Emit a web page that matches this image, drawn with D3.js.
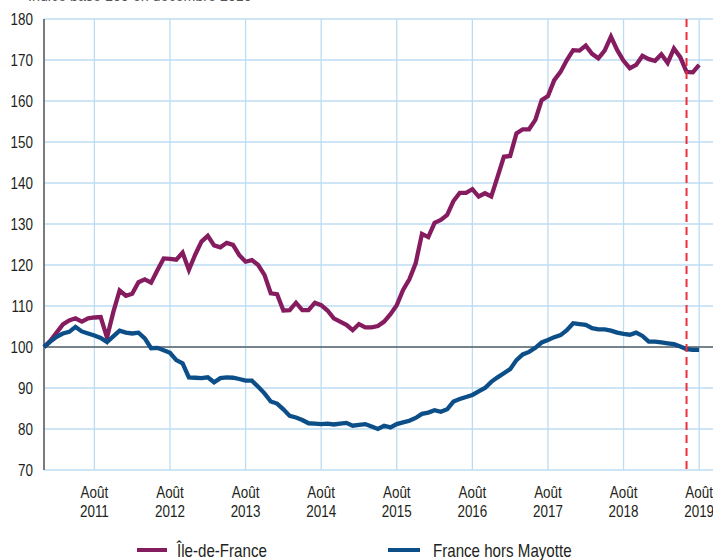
<!DOCTYPE html>
<html>
<head>
<meta charset="utf-8">
<script src="https://cdn.jsdelivr.net/npm/d3@7"></script>
<style>
  body { margin: 0; background: #fff; }
  svg text { font-family: "Liberation Sans Narrow", "Arial Narrow", "Liberation Sans", sans-serif; fill: #231f20; }
</style>
</head>
<body>
<div id="chart"></div>
<script>
// monthly index, base 100 = décembre 2010 (month 0)
const startYear = 2010, startMonth = 11
const ileDeFrance = [100, 101.5, 103.5, 105.5, 106.5, 107, 106.2, 107, 107.2, 107.3,
  102.3, 108.5, 113.8, 112.5, 113, 115.8, 116.5, 115.7, 118.7, 121.6,
  121.5, 121.3, 123, 118.8, 122.5, 125.7, 127.1, 124.8, 124.3, 125.4,
  124.9, 122.4, 120.8, 121.2, 120, 117.6, 113.1, 112.9, 108.9, 109,
  110.8, 109, 109, 110.8, 110.2, 108.9, 107, 106.2, 105.4, 104.1,
  105.6, 104.8, 104.8, 105.1, 106.2, 108, 110.2, 113.9, 116.5, 120.4,
  127.6, 126.8, 130.3, 131, 132.2, 135.6, 137.6, 137.6, 138.5, 136.7,
  137.5, 136.7, 141.5, 146.4, 146.6, 152.1, 153.1, 153.1, 155.4, 160.2,
  161.2, 165.1, 167.1, 170, 172.4, 172.3, 173.5, 171.5, 170.4, 172.3,
  175.7, 172.4, 169.8, 168, 168.8, 171, 170.2, 169.8, 171.4, 169.3,
  172.8, 170.7, 167.1, 167, 168.8]
const franceHorsMayotte = [100, 101.3, 102.5, 103.3, 103.7, 104.9, 103.8, 103.3, 102.8, 102.2,
  101.2, 102.6, 104, 103.5, 103.3, 103.5, 102.1, 99.7, 99.8, 99.2,
  98.6, 96.8, 96, 92.6, 92.5, 92.4, 92.6, 91.4, 92.4, 92.6,
  92.5, 92.2, 91.8, 91.8, 90.3, 88.7, 86.7, 86.2, 84.8, 83.2,
  82.8, 82.2, 81.4, 81.3, 81.2, 81.3, 81.1, 81.3, 81.5, 80.8,
  81, 81.2, 80.6, 80, 80.8, 80.4, 81.2, 81.6, 82, 82.7,
  83.7, 84, 84.6, 84.2, 84.8, 86.7, 87.3, 87.8, 88.3, 89.2,
  90, 91.5, 92.6, 93.6, 94.6, 96.8, 98.2, 98.8, 99.8, 101.1,
  101.7, 102.4, 102.9, 104.1, 105.8, 105.6, 105.4, 104.6, 104.3, 104.3,
  104, 103.5, 103.2, 103, 103.5, 102.7, 101.3, 101.3, 101.1, 100.9,
  100.7, 100.1, 99.5, 99.3, 99.3]
const yTicks = [70, 80, 90, 100, 110, 120, 130, 140, 150, 160, 170, 180]
const xTickYears = [2011, 2012, 2013, 2014, 2015, 2016, 2017, 2018, 2019]
const xTickMonth = "Août"
const markerDate = [2019, 5] // juin 2019
const seriesNames = ["Île-de-France", "France hors Mayotte"]
const seriesColors = ["#861c60", "#0c4f88"]
const titleText = "Indice base 100 en décembre 2010"

const width = 713, height = 560
const margin = {top: 19, right: 0, bottom: 90, left: 44}
const narrow = 0.84 // no narrow font installed, squeeze regular one

const monthIndex = (y, m) => (y - startYear) * 12 + (m - startMonth)

const svg = d3.select("#chart").append("svg")
    .attr("width", width)
    .attr("height", height)

const x = d3.scaleLinear()
    .domain([0, 106.2])
    .range([margin.left, width - margin.right])

const y = d3.scaleLinear()
    .domain([70, 180])
    .range([height - margin.bottom, margin.top])

// title (cut off at top of the frame)
svg.append("text")
    .attr("transform", `translate(28,1) scale(${narrow},1)`)
    .style("font-size", "17px")
    .style("fill", "#555")
    .text(titleText)

// horizontal grid
svg.append("g")
    .selectAll("line")
    .data(yTicks)
    .join("line")
    .attr("x1", margin.left).attr("x2", width)
    .attr("y1", d => y(d)).attr("y2", d => y(d))
    .attr("stroke", "#bcdcf1")
    .attr("stroke-width", 1.3)

// vertical grid at août of each year
svg.append("g")
    .selectAll("line")
    .data(xTickYears)
    .join("line")
    .attr("x1", d => x(monthIndex(d, 7))).attr("x2", d => x(monthIndex(d, 7)))
    .attr("y1", y(180)).attr("y2", y(70))
    .attr("stroke", "#bcdcf1")
    .attr("stroke-width", 1.3)

// base 100 line
svg.append("line")
    .attr("x1", margin.left).attr("x2", width)
    .attr("y1", y(100)).attr("y2", y(100))
    .attr("stroke", "#222")
    .attr("stroke-width", 1.2)

// left axis
svg.append("line")
    .attr("x1", margin.left).attr("x2", margin.left)
    .attr("y1", y(180)).attr("y2", y(70))
    .attr("stroke", "#6d6d6d")
    .attr("stroke-width", 1.8)

// y labels
svg.append("g")
    .selectAll("text")
    .data(yTicks)
    .join("text")
    .attr("transform", d => `translate(33,${y(d) + 5.5}) scale(${narrow},1)`)
    .attr("text-anchor", "end")
    .style("font-size", "16px")
    .text(d => d)

// x labels
const xl = svg.append("g")
    .selectAll("g")
    .data(xTickYears)
    .join("g")
    .attr("transform", d => `translate(${x(monthIndex(d, 7))},0) scale(${narrow},1)`)
xl.append("text")
    .attr("y", 498)
    .attr("text-anchor", "middle")
    .style("font-size", "16px")
    .text(xTickMonth)
xl.append("text")
    .attr("y", 517)
    .attr("text-anchor", "middle")
    .style("font-size", "16px")
    .text(d => d)

// series
const line = d3.line()
    .x((d, i) => x(i))
    .y(d => y(d))

const series = [ileDeFrance, franceHorsMayotte]
svg.append("g")
    .selectAll("path")
    .data(series)
    .join("path")
    .attr("d", line)
    .attr("fill", "none")
    .attr("stroke", (d, i) => seriesColors[i])
    .attr("stroke-width", 4.3)
    .attr("stroke-linejoin", "miter")

// red dashed marker
const mx = x(monthIndex(markerDate[0], markerDate[1]))
svg.append("line")
    .attr("x1", mx).attr("x2", mx)
    .attr("y1", y(180)).attr("y2", y(70))
    .attr("stroke", "#ee2f3b")
    .attr("stroke-width", 2)
    .attr("stroke-dasharray", "8,5")

// legend
const lg = svg.append("g")
    .selectAll("g")
    .data(seriesNames)
    .join("g")
    .attr("transform", (d, i) => `translate(${[137, 388][i]},550)`)
lg.append("line")
    .attr("x1", 0).attr("x2", (d, i) => [30, 32][i])
    .attr("stroke", (d, i) => seriesColors[i])
    .attr("stroke-width", 4)
lg.append("text")
    .attr("transform", (d, i) => `translate(${[40, 45][i]},7) scale(${narrow},1)`)
    .style("font-size", "18px")
    .text(d => d)
</script>
</body>
</html>
